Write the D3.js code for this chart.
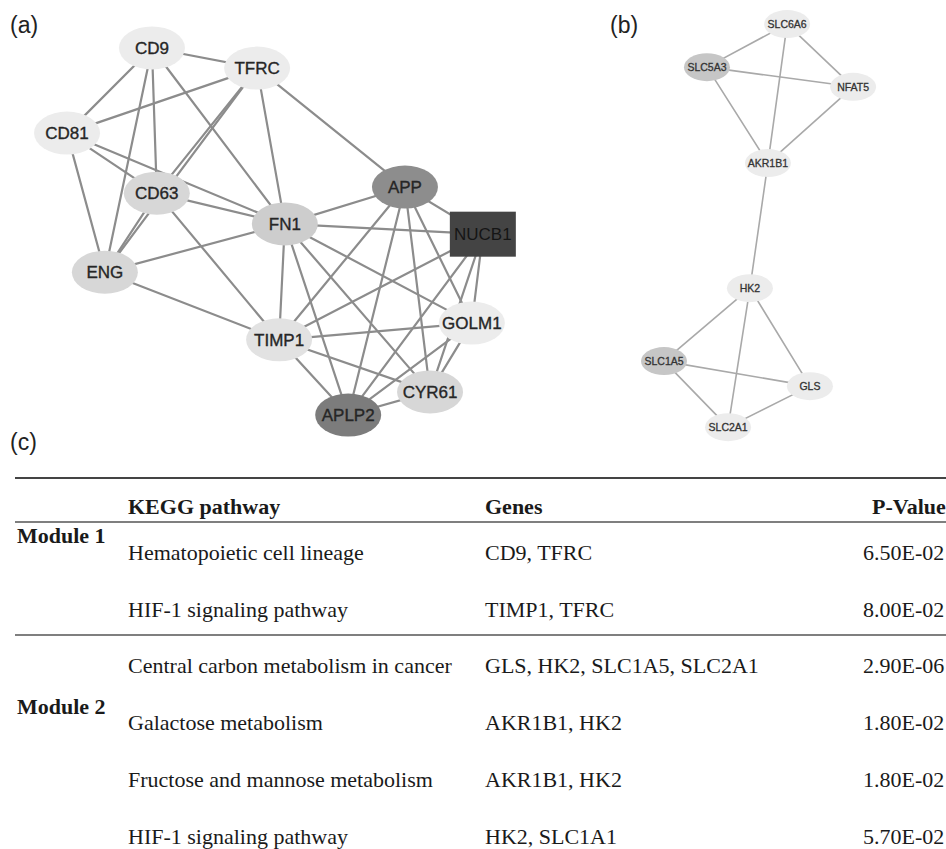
<!DOCTYPE html>
<html>
<head>
<meta charset="utf-8">
<script src="https://cdn.jsdelivr.net/npm/d3@7"></script>
<style>
  body { margin: 0; background: #fff; }
  svg { display: block; }
</style>
</head>
<body>
<script>
// ---------- Module 1 PPI network (panel a) ----------
const modANodes = ["CD9", "TFRC", "CD81", "CD63", "FN1", "APP", "NUCB1", "ENG", "TIMP1", "GOLM1", "CYR61", "APLP2"];
// layout coordinates (network units, 0-100)
const modALayoutX = [20.9, 44.8, 1.6, 22.0, 51.1, 78.4, 96.1, 10.2, 49.8, 93.6, 84.1, 65.5];
const modALayoutY = [2.1, 7.4, 24.5, 40.3, 48.4, 38.7, 51.1, 61.1, 78.9, 74.5, 92.6, 98.7];
const modAShade = ["low", "low", "low", "mid", "midhigh", "high", "seed", "mid", "lowmid", "low", "mid", "higher"];
const modAEdges = [
  ["CD9", "TFRC"], ["CD9", "CD81"], ["CD9", "ENG"], ["CD9", "CD63"], ["CD9", "FN1"],
  ["TFRC", "CD81"], ["TFRC", "CD63"], ["TFRC", "ENG"], ["TFRC", "FN1"], ["TFRC", "APP"],
  ["CD81", "CD63"], ["CD81", "FN1"], ["CD81", "ENG"],
  ["CD63", "ENG"], ["CD63", "FN1"], ["CD63", "TIMP1"],
  ["ENG", "FN1"], ["ENG", "TIMP1"],
  ["FN1", "APP"], ["FN1", "NUCB1"], ["FN1", "TIMP1"], ["FN1", "APLP2"], ["FN1", "CYR61"], ["FN1", "GOLM1"],
  ["TIMP1", "APP"], ["TIMP1", "NUCB1"], ["TIMP1", "GOLM1"], ["TIMP1", "CYR61"], ["TIMP1", "APLP2"],
  ["APP", "NUCB1"], ["APP", "APLP2"], ["APP", "CYR61"], ["APP", "GOLM1"],
  ["NUCB1", "APLP2"], ["NUCB1", "CYR61"], ["NUCB1", "GOLM1"],
  ["GOLM1", "APLP2"], ["GOLM1", "CYR61"], ["CYR61", "APLP2"]
];

// ---------- Module 2 PPI network (panel b) ----------
const modBNodes = ["SLC6A6", "SLC5A3", "NFAT5", "AKR1B1", "HK2", "SLC1A5", "GLS", "SLC2A1"];
const modBLayoutX = [61.3, 27.9, 88.8, 53.3, 45.8, 10.0, 70.8, 36.7];
const modBLayoutY = [1.0, 11.5, 16.3, 34.9, 65.4, 83.2, 89.3, 99.3];
const modBShade = ["low", "mid", "low", "low", "low", "mid", "low", "low"];
const modBEdges = [
  ["SLC6A6", "SLC5A3"], ["SLC6A6", "NFAT5"], ["SLC6A6", "AKR1B1"],
  ["SLC5A3", "NFAT5"], ["SLC5A3", "AKR1B1"], ["NFAT5", "AKR1B1"],
  ["AKR1B1", "HK2"],
  ["HK2", "SLC1A5"], ["HK2", "SLC2A1"], ["HK2", "GLS"],
  ["SLC1A5", "GLS"], ["SLC1A5", "SLC2A1"], ["GLS", "SLC2A1"]
];

// ---------- KEGG enrichment table (panel c) ----------
const tableHeaders = ["KEGG pathway", "Genes", "P-Value"];
const moduleNames = ["Module 1", "Module 2"];
const pathways = [
  "Hematopoietic cell lineage", "HIF-1 signaling pathway",
  "Central carbon metabolism in cancer", "Galactose metabolism",
  "Fructose and mannose metabolism", "HIF-1 signaling pathway"
];
const pathwayModule = [0, 0, 1, 1, 1, 1];
const pathwayGenes = [
  "CD9, TFRC", "TIMP1, TFRC",
  "GLS, HK2, SLC1A5, SLC2A1", "AKR1B1, HK2",
  "AKR1B1, HK2", "HK2, SLC1A1"
];
const pValues = [6.5e-2, 8.0e-2, 2.9e-6, 1.8e-2, 1.8e-2, 5.7e-2];

// ------------------------------------------------------------
const W = 946, H = 849;
const svg = d3.select("body").append("svg")
  .attr("width", W).attr("height", H)
  .attr("viewBox", `0 0 ${W} ${H}`);

const sans = "'Liberation Sans', Arial, Helvetica, sans-serif";
const serif = "'Liberation Serif', 'Times New Roman', Times, serif";

// panel letters
svg.append("text").attr("x", 10).attr("y", 33).text("(a)")
  .attr("font-family", sans).attr("font-size", 23).attr("fill", "#222");
svg.append("text").attr("x", 610).attr("y", 33).text("(b)")
  .attr("font-family", sans).attr("font-size", 23).attr("fill", "#222");
svg.append("text").attr("x", 10).attr("y", 450).text("(c)")
  .attr("font-family", sans).attr("font-size", 23).attr("fill", "#222");

// shared network renderer
function drawNetwork(g, names, lx, ly, shades, edges, opt) {
  const x = d3.scaleLinear().domain([0, 100]).range(opt.xRange);
  const y = d3.scaleLinear().domain([0, 100]).range(opt.yRange);
  const fill = d3.scaleOrdinal().domain(opt.shadeDomain).range(opt.shadeRange);
  const nodes = names.map((n, i) => ({ id: n, x: x(lx[i]), y: y(ly[i]), shade: shades[i] }));
  const byId = new Map(nodes.map(d => [d.id, d]));

  g.append("g").selectAll("line").data(edges).join("line")
    .attr("x1", d => byId.get(d[0]).x).attr("y1", d => byId.get(d[0]).y)
    .attr("x2", d => byId.get(d[1]).x).attr("y2", d => byId.get(d[1]).y)
    .attr("stroke", opt.edgeColor).attr("stroke-width", opt.edgeWidth)
    .attr("stroke-linecap", "round");

  const ng = g.append("g").selectAll("g").data(nodes).join("g")
    .attr("transform", d => `translate(${d.x},${d.y})`);

  ng.filter(d => d.shade !== "seed").append("ellipse")
    .attr("rx", opt.rx).attr("ry", opt.ry)
    .attr("fill", d => fill(d.shade));
  ng.filter(d => d.shade === "seed").append("rect")
    .attr("x", -opt.boxW / 2).attr("y", -opt.boxH / 2)
    .attr("width", opt.boxW).attr("height", opt.boxH)
    .attr("fill", d => fill(d.shade));

  ng.append("text")
    .attr("text-anchor", "middle").attr("dy", "0.36em")
    .attr("font-family", sans).attr("font-size", opt.fontSize)
    .attr("fill", d => d.shade === "seed" ? "#151515" : opt.textColor)
    .attr("stroke", d => d.shade === "seed" ? "none" : opt.textColor)
    .attr("stroke-width", opt.textStroke)
    .text(d => d.id);
}

drawNetwork(svg.append("g"), modANodes, modALayoutX, modALayoutY, modAShade, modAEdges, {
  xRange: [60, 500], yRange: [40, 420],
  shadeDomain: ["low", "lowmid", "mid", "midhigh", "high", "higher", "seed"],
  shadeRange: ["#ececec", "#e2e2e2", "#d7d7d7", "#cdcdcd", "#8d8d8d", "#7c7c7c", "#444444"],
  edgeColor: "#8c8c8c", edgeWidth: 2.2,
  rx: 33, ry: 21.5, boxW: 66, boxH: 45,
  fontSize: 17, textColor: "#262626", textStroke: 0.35
});

drawNetwork(svg.append("g"), modBNodes, modBLayoutX, modBLayoutY, modBShade, modBEdges, {
  xRange: [640, 880], yRange: [20, 430],
  shadeDomain: ["low", "mid"],
  shadeRange: ["#ececec", "#c6c6c6"],
  edgeColor: "#a9a9a9", edgeWidth: 1.6,
  rx: 23, ry: 14, boxW: 46, boxH: 28,
  fontSize: 10.5, textColor: "#333", textStroke: 0.3
});

// ---------- table ----------
const colX = { pathway: 128, genes: 485, p: 863, pHead: 872 };
const tableLeft = 15, tableRight = W;
const ruleTop = 478, ruleHead = 522, moduleTops = [522, 635];
const rowStep = 57, firstRowOffset = 38;

const fmtP = v => {
  const [m, e] = v.toExponential(2).split("e");
  const n = Math.abs(+e);
  return `${m}E${+e < 0 ? "-" : "+"}${String(n).padStart(2, "0")}`;
};

const t = svg.append("g").attr("font-family", serif).attr("font-size", 22).attr("fill", "#1a1a1a");

// rules
[[ruleTop, 2.2, "#444"], [ruleHead, 1.6, "#555"], [moduleTops[1], 1.6, "#555"]].forEach(([yy, sw, c]) => {
  t.append("line").attr("x1", tableLeft).attr("x2", tableRight)
    .attr("y1", yy).attr("y2", yy).attr("stroke", c).attr("stroke-width", sw);
});

// header
const headX = [colX.pathway, colX.genes, colX.pHead];
t.append("g").selectAll("text").data(tableHeaders).join("text")
  .attr("x", (d, i) => headX[i]).attr("y", 514)
  .attr("font-weight", "bold").text(d => d);

// module labels
const moduleLabelOffset = [21, 79];
t.append("g").selectAll("text").data(moduleNames).join("text")
  .attr("x", 17).attr("y", (d, i) => moduleTops[i] + moduleLabelOffset[i])
  .attr("font-weight", "bold").text(d => d);

// rows
const rowIndexInModule = pathwayModule.map((m, i) => pathwayModule.slice(0, i).filter(k => k === m).length);
const rowY = i => moduleTops[pathwayModule[i]] + firstRowOffset + rowIndexInModule[i] * rowStep;
const rows = t.append("g").selectAll("g").data(pathways).join("g");
rows.append("text").attr("x", colX.pathway).attr("y", (d, i) => rowY(i)).text(d => d);
rows.append("text").attr("x", colX.genes).attr("y", (d, i) => rowY(i)).text((d, i) => pathwayGenes[i]);
rows.append("text").attr("x", colX.p).attr("y", (d, i) => rowY(i)).text((d, i) => fmtP(pValues[i]));
</script>
</body>
</html>
